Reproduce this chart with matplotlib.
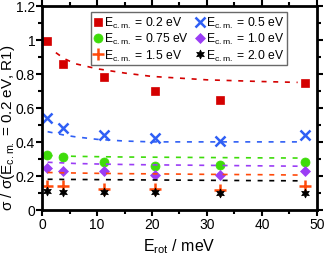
import matplotlib
matplotlib.use("Agg")
import matplotlib.pyplot as plt
from matplotlib.ticker import MultipleLocator, FuncFormatter

plt.rcParams['font.family'] = ['Liberation Sans', 'DejaVu Sans']
plt.rcParams['mathtext.fontset'] = 'custom'
plt.rcParams['mathtext.rm'] = 'Liberation Sans'
plt.rcParams['mathtext.it'] = 'Liberation Sans'

# rotational energies (meV)
e_rot = [0.8, 3.8, 11.3, 20.6, 32.4, 47.8]

# relative cross sections for each collision energy
s_02 = [0.995, 0.86, 0.78, 0.70, 0.645, 0.745]
s_05 = [0.54, 0.48, 0.44, 0.42, 0.405, 0.44]
s_075 = [0.32, 0.31, 0.28, 0.26, 0.262, 0.28]
s_10 = [0.246, 0.23, 0.23, 0.205, 0.205, 0.23]
s_15 = [0.14, 0.14, 0.125, 0.12, 0.118, 0.14]
s_20 = [0.112, 0.107, 0.106, 0.106, 0.10, 0.10]

# fitted curves (dashed)
fit_x = [1.0, 2.5, 4, 6, 10, 15, 20, 30, 40, 46.5]
fit_02 = [None, 0.925, 0.89, 0.86, 0.83, 0.805, 0.785, 0.765, 0.755, 0.75]
fit_05 = [0.46, 0.45, 0.44, 0.43, 0.415, 0.405, 0.40, 0.40, 0.40, 0.40]
fit_075 = [0.32, 0.318, 0.317, 0.315, 0.313, 0.311, 0.31, 0.308, 0.306, 0.305]
fit_10 = [0.28, 0.278, 0.276, 0.273, 0.27, 0.267, 0.265, 0.262, 0.259, 0.257]
fit_15 = [0.22, 0.219, 0.218, 0.217, 0.215, 0.213, 0.212, 0.209, 0.207, 0.205]
fit_20 = [0.18, 0.18, 0.179, 0.179, 0.178, 0.177, 0.176, 0.174, 0.172, 0.171]

labels = ['0.2', '0.5', '0.75', '1.0', '1.5', '2.0']
colors = ['#d40000', '#2f5ff5', '#3edc0a', '#9b3df5', '#ff4a0a', '#000000']
markers = ['s', 'x', 'o', 'D', '+', (6, 1, 0)]
sizes = [6, 7, 6.5, 5, 9, 6.5]
series = [s_02, s_05, s_075, s_10, s_15, s_20]
fits = [fit_02, fit_05, fit_075, fit_10, fit_15, fit_20]

fig = plt.figure(figsize=(3.24, 2.55), dpi=100)
ax = fig.add_axes([0.130, 0.173, 0.848, 0.800])

handles = []
for lab, c, m, ms, ys, fy in zip(labels, colors, markers, sizes, series, fits):
    fx = [x for x, y in zip(fit_x, fy) if y is not None]
    fyy = [y for y in fy if y is not None]
    ax.plot(fx, fyy, ls=(0, (3, 4)), color=c, lw=1.2)
    h, = ax.plot(e_rot, ys, ls='none', marker=m, color=c, ms=ms,
                 mew=1.8 if m in ('x', '+') else 0.5,
                 label=r'E$_{\mathrm{c.m.}}$ = ' + lab + ' eV')
    handles.append(h)

order = [0, 2, 4, 1, 3, 5]
leg = ax.legend([handles[i] for i in order], [handles[i].get_label() for i in order],
                ncol=2, loc='upper right', bbox_to_anchor=(0.9, 0.98),
                fontsize=8.7, frameon=True, fancybox=False, handlelength=0.7,
                handletextpad=0.15, columnspacing=0.6, labelspacing=0.1,
                borderpad=0.2, borderaxespad=0.2)
leg.get_frame().set_edgecolor('#444444')
leg.get_frame().set_linewidth(1.0)

ax.set_xlim(0, 50)
ax.set_ylim(0, 1.2)
ax.xaxis.set_major_locator(MultipleLocator(10))
ax.xaxis.set_minor_locator(MultipleLocator(5))
ax.yaxis.set_major_locator(MultipleLocator(0.2))
ax.yaxis.set_minor_locator(MultipleLocator(0.1))
ax.yaxis.set_major_formatter(FuncFormatter(lambda v, p: f'{v:.1f}'.rstrip('0').rstrip('.') if v else '0'))
ax.tick_params(which='both', direction='out', top=True, right=True, width=1.5, labelsize=10, pad=1)
ax.tick_params(which='major', length=4)
ax.tick_params(which='minor', length=3)
for s in ax.spines.values():
    s.set_linewidth(2)

ax.set_xlabel(r'E$_{\mathrm{rot}}$ / meV', fontsize=11.5, labelpad=4)
ax.set_ylabel(r'σ / σ(E$_{\mathrm{c.m.}}$ = 0.2 eV, R1)', fontsize=11)
ax.yaxis.set_label_coords(-0.092, 0.41)

fig.savefig('out.png', dpi=100)
